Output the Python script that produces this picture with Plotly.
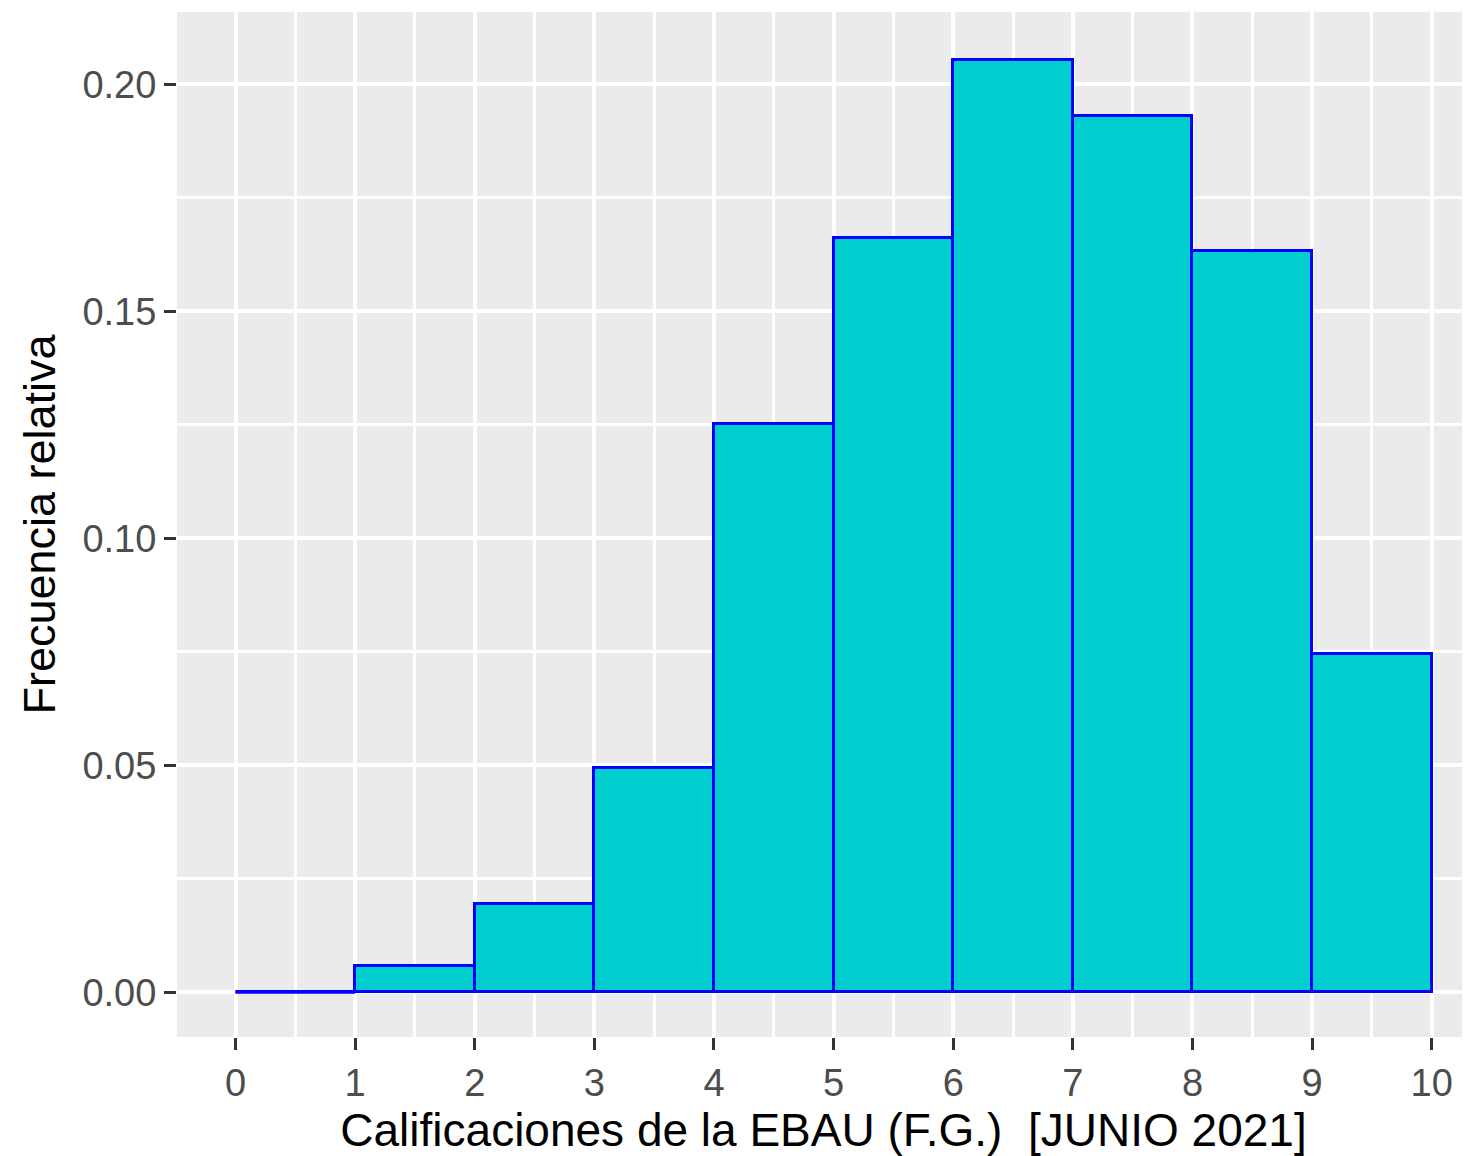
import plotly.graph_objects as go

# Data: histogram of EBAU grades (relative frequency per unit bin)
bin_edges = [0, 1, 2, 3, 4, 5, 6, 7, 8, 9, 10]
rel_freq = [0.0, 0.0057, 0.0194, 0.0493, 0.1252, 0.1661, 0.2053, 0.1930, 0.1633, 0.0744]
x_ticks = [0, 1, 2, 3, 4, 5, 6, 7, 8, 9, 10]
y_ticks = [0.00, 0.05, 0.10, 0.15, 0.20]

centers = [(a + b) / 2 for a, b in zip(bin_edges[:-1], bin_edges[1:])]
widths = [b - a for a, b in zip(bin_edges[:-1], bin_edges[1:])]

FILL = "#00CDCD"
EDGE = "#0000FF"

fig = go.Figure()
fig.add_trace(go.Bar(
    x=centers, y=rel_freq, width=widths,
    marker=dict(color=FILL, line=dict(color=EDGE, width=3)),
    showlegend=False, hoverinfo="x+y",
))
# zero-height bins are drawn as a flat outline, like ggplot
for i, v in enumerate(rel_freq):
    if v == 0:
        fig.add_trace(go.Scatter(
            x=[bin_edges[i], bin_edges[i + 1]], y=[v, v], mode="lines",
            line=dict(color=EDGE, width=3), showlegend=False, hoverinfo="skip",
        ))

font_family = "Liberation Sans, Arial, sans-serif"
# the page body has an 8px default margin, so the figure is sized 8px smaller
fig.update_layout(
    width=1462, height=1148,
    margin=dict(l=169, r=0, t=4, b=119, autoexpand=False),
    paper_bgcolor="white", plot_bgcolor="#EBEBEB",
    bargap=0,
    font=dict(family=font_family),
    xaxis=dict(
        range=[-0.489, 10.32], automargin=False,
        tickmode="array", tickvals=x_ticks, ticktext=[str(t) for t in x_ticks],
        ticks="outside", ticklen=12, tickwidth=3, tickcolor="#333333",
        tickfont=dict(size=38, color="#4D4D4D", family=font_family),
        showgrid=True, gridcolor="white", gridwidth=4,
        minor=dict(dtick=0.5, tick0=0, showgrid=True, gridcolor="white", gridwidth=2.5, ticks=""),
        zeroline=False, showline=False,
        title=dict(text="Calificaciones de la EBAU (F.G.)&nbsp;&nbsp;[JUNIO 2021]",
                   font=dict(size=46, color="black", family=font_family), standoff=8),
    ),
    yaxis=dict(
        range=[-0.00985, 0.2159], automargin=False,
        tickmode="array", tickvals=y_ticks, ticktext=[f"{t:.2f}" for t in y_ticks],
        ticks="outside", ticklen=12, tickwidth=3, tickcolor="#333333",
        tickfont=dict(size=38, color="#4D4D4D", family=font_family),
        showgrid=True, gridcolor="white", gridwidth=4,
        minor=dict(dtick=0.025, tick0=0, showgrid=True, gridcolor="white", gridwidth=2.5, ticks=""),
        zeroline=False, showline=False,
        title=dict(text="Frecuencia relativa",
                   font=dict(size=45, color="black", family=font_family), standoff=12),
    ),
)

fig.write_html("out.html")
